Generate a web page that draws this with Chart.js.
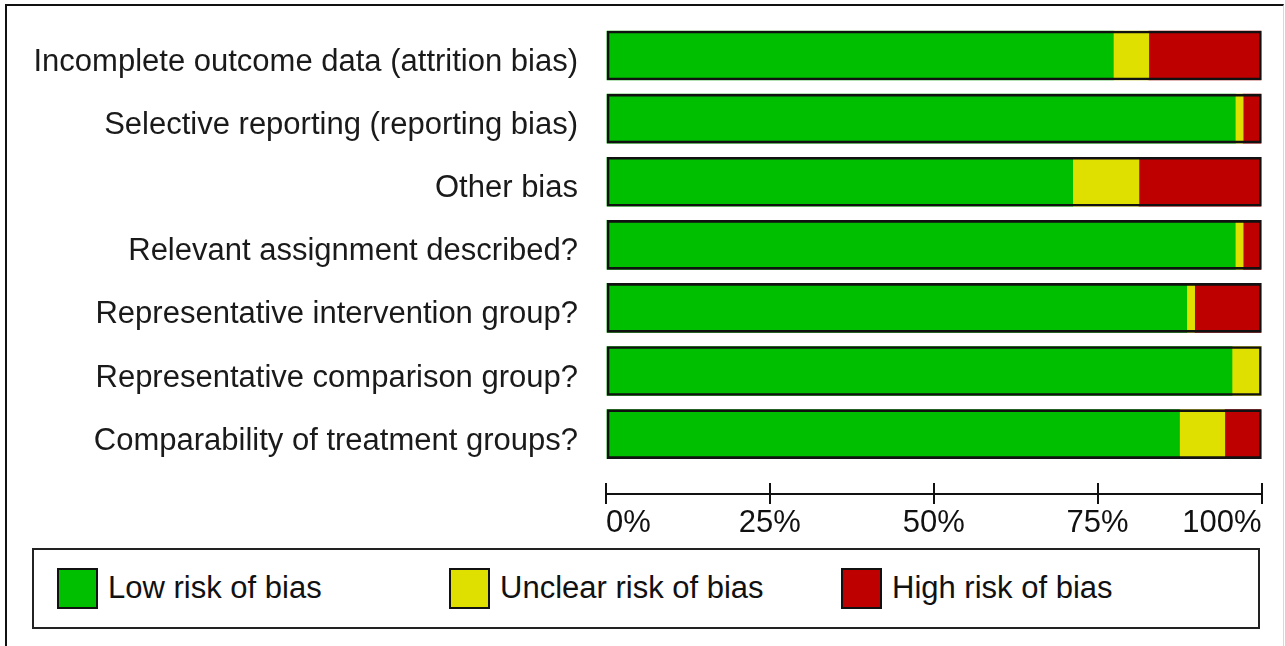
<!DOCTYPE html>
<html>
<head>
<meta charset="utf-8">
<script src="https://cdn.jsdelivr.net/npm/chart.js@4/dist/chart.umd.min.js"></script>
<style>
    body { margin: 0; background: #fff; width: 1285px; height: 646px; overflow: hidden; position: relative; font-family: "Liberation Sans", Arial, sans-serif; }
    #frame { position: absolute; left: 5px; top: 4px; width: 1276px; height: 650px; border-left: 2px solid #111; border-top: 2px solid #111; border-right: 1px solid #d8d8d8; }
    #chartBox { position: absolute; left: 0; top: 0; width: 1285px; height: 540px; }
    #legend { position: absolute; left: 32px; top: 548px; width: 1228px; height: 81px; box-sizing: border-box; border: 2px solid #222; }
    .item { position: absolute; top: 17px; display: flex; align-items: center; height: 42px; font-size: 31px; color: #111; }
    .swatch { width: 41px; height: 41px; box-sizing: border-box; border: 2px solid #111; margin-right: 10px; }
</style>
</head>
<body>
<div id="frame"></div>
<div id="chartBox"><canvas id="canvas" width="1285" height="540"></canvas></div>
<div id="legend"></div>
<script>
let colorLow = "#00bf00";
let colorUnclear = "#e0e000";
let colorHigh = "#bf0000";

let categories = [
    "Incomplete outcome data (attrition bias)",
    "Selective reporting (reporting bias)",
    "Other bias",
    "Relevant assignment described?",
    "Representative intervention group?",
    "Representative comparison group?",
    "Comparability of treatment groups?"
];
let lowRisk = [77.4, 96.0, 71.2, 96.0, 88.6, 95.5, 87.5];
let unclearRisk = [5.4, 1.2, 10.1, 1.2, 1.2, 4.5, 6.9];
let highRisk = [17.2, 2.8, 18.7, 2.8, 10.2, 0, 5.6];
let xTicks = [0, 25, 50, 75, 100];
let seriesNames = ["Low risk of bias", "Unclear risk of bias", "High risk of bias"];
let seriesColors = [colorLow, colorUnclear, colorHigh];

let rows = (values) => values.map((v, i) => ({x: v, y: i}));

// tick marks in the reference cross the axis line, chart.js only draws the lower half
let crossTicks = {
    id: "crossTicks",
    afterDraw(chart) {
        let scale = chart.scales.x;
        let ctx = chart.ctx;
        ctx.save();
        ctx.strokeStyle = "#111";
        ctx.lineWidth = 2;
        scale.ticks.forEach((t) => {
            let px = Math.round(scale.getPixelForValue(t.value));
            ctx.beginPath();
            ctx.moveTo(px, scale.top - 11);
            ctx.lineTo(px, scale.top);
            ctx.stroke();
        });
        ctx.restore();
    }
};

new Chart(document.getElementById("canvas").getContext("2d"), {
    type: "bar",
    data: {
        datasets: [
            {label: "frame", data: rows(categories.map(() => 100)), stack: "frame", grouped: false, order: -1,
             backgroundColor: "rgba(0,0,0,0)", borderColor: "#111", borderWidth: 2, borderSkipped: false},
            {label: seriesNames[0], data: rows(lowRisk), backgroundColor: colorLow, borderWidth: 0},
            {label: seriesNames[1], data: rows(unclearRisk), backgroundColor: colorUnclear, borderWidth: 0},
            {label: seriesNames[2], data: rows(highRisk), backgroundColor: colorHigh, borderWidth: 0}
        ]
    },
    options: {
        indexAxis: "y",
        responsive: false,
        animation: false,
        barThickness: 49,
        layout: {
            padding: {top: 24, right: 23.5, left: 0, bottom: 0}
        },
        plugins: {
            legend: {display: false},
            tooltip: {enabled: false}
        },
        scales: {
            y: {
                type: "linear",
                stacked: true,
                reverse: true,
                offset: false,
                min: -0.5,
                max: 6.95,
                grid: {display: false, drawTicks: false, offset: false},
                border: {display: false},
                afterBuildTicks: (scale) => { scale.ticks = categories.map((c, i) => ({value: i})); },
                ticks: {
                    autoSkip: false,
                    padding: 28,
                    labelOffset: 7,
                    color: "#1a1a1a",
                    font: {family: "'Liberation Sans', Arial, sans-serif", size: 31},
                    callback: (v) => categories[v]
                },
                afterFit: (scale) => {
                    scale.width = 606;
                    scale.paddingTop = 0;
                    scale.paddingBottom = 0;
                }
            },
            x: {
                type: "linear",
                stacked: true,
                min: 0,
                max: 100,
                grid: {drawOnChartArea: false, drawTicks: true, tickLength: 10, color: "#111", lineWidth: 2},
                border: {display: true, color: "#111", width: 2},
                afterBuildTicks: (scale) => { scale.ticks = xTicks.map((v) => ({value: v})); },
                ticks: {
                    align: "inner",
                    padding: 1,
                    color: "#111",
                    font: {family: "'Liberation Sans', Arial, sans-serif", size: 31},
                    callback: (v) => v + "%"
                },
                afterFit: (scale) => { scale.height = 46; }
            }
        }
    },
    plugins: [crossTicks]
});

let legend = document.getElementById("legend");
seriesNames.forEach((name, i) => {
    let item = document.createElement("div");
    item.className = "item";
    item.style.left = (23 + i * 392) + "px";
    let sw = document.createElement("div");
    sw.className = "swatch";
    sw.style.background = seriesColors[i];
    let label = document.createElement("span");
    label.textContent = name;
    item.appendChild(sw);
    item.appendChild(label);
    legend.appendChild(item);
});
</script>
</body>
</html>
